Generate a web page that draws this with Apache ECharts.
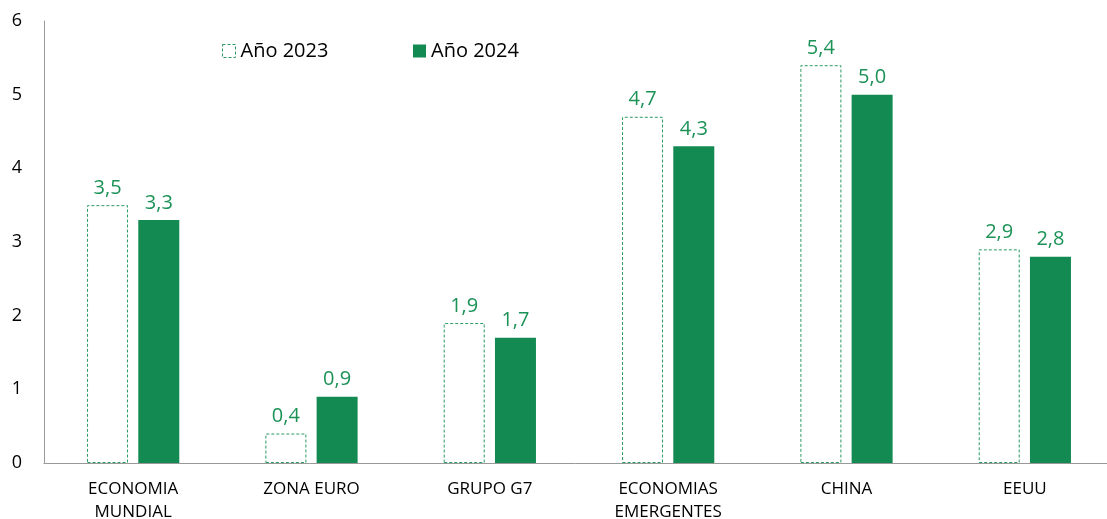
<!DOCTYPE html>
<html>
<head>
<meta charset="utf-8">
<script src="https://cdn.jsdelivr.net/npm/echarts@6/dist/echarts.min.js"></script>
<style>
  html, body { margin: 0; padding: 0; background: #fff; }
  #chart { width: 1107px; height: 519px; }
</style>
</head>
<body>
<div id="chart"></div>
<script>
// categorias y valores
var categorias = ['ECONOMIA\nMUNDIAL', 'ZONA EURO', 'GRUPO G7', 'ECONOMIAS\nEMERGENTES', 'CHINA', 'EEUU'];
var anio2023 = [3.5, 0.4, 1.9, 4.7, 5.4, 2.9];
var anio2024 = [3.3, 0.9, 1.7, 4.3, 5.0, 2.8];
var ticksY = [0, 1, 2, 3, 4, 5, 6];

var verde = '#138a52';
var verdeBorde = '#2a9a62';
var verdeTexto = '#1c9257';
var fuente = '"Open Sans", "Noto Sans", sans-serif';

var chart = echarts.init(document.getElementById('chart'));

function etiqueta(p) {
  return p.value.toFixed(1).replace('.', ',');
}

// leyenda: dos bloques colocados a mano
var leyendaBase = {
  top: 41,
  padding: 0,
  icon: 'rect',
  itemWidth: 13,
  itemHeight: 13,
  selectedMode: false,
  textStyle: { fontSize: 20, color: '#000', fontFamily: fuente }
};

var option = {
  animation: false,
  textStyle: { fontFamily: fuente },
  grid: { left: 44, right: -7, top: 21, bottom: 56, outerBoundsMode: 'none' },
  legend: [
    Object.assign({}, leyendaBase, {
      left: 222,
      data: [{ name: 'Año 2023', itemStyle: { color: '#fff', borderColor: verdeBorde, borderWidth: 1, borderType: [3, 2] } }]
    }),
    Object.assign({}, leyendaBase, {
      left: 413,
      data: [{ name: 'Año 2024', itemStyle: { color: verde } }]
    })
  ],
  xAxis: {
    type: 'category',
    data: categorias,
    axisLine: { lineStyle: { color: '#999', width: 1 } },
    axisTick: { show: false },
    axisLabel: { color: '#000', fontSize: 17, margin: 15, lineHeight: 23, fontFamily: fuente }
  },
  yAxis: {
    type: 'value',
    min: ticksY[0],
    max: ticksY[ticksY.length - 1],
    interval: 1,
    splitLine: { show: false },
    axisLine: { show: true, lineStyle: { color: '#999', width: 1 } },
    axisTick: { show: false },
    axisLabel: { color: '#000', fontSize: 18, margin: 22, fontFamily: fuente }
  },
  series: [
    {
      name: 'Año 2023',
      type: 'bar',
      data: anio2023,
      barWidth: 41,
      barGap: '25%',
      itemStyle: { color: '#fff', borderColor: verdeBorde, borderWidth: 1, borderType: [3, 2] },
      label: { show: true, position: 'top', distance: 7, color: verdeTexto, fontSize: 20, formatter: etiqueta, fontFamily: fuente }
    },
    {
      name: 'Año 2024',
      type: 'bar',
      data: anio2024,
      barWidth: 41,
      itemStyle: { color: verde },
      label: { show: true, position: 'top', distance: 7, color: verdeTexto, fontSize: 20, formatter: etiqueta, fontFamily: fuente }
    }
  ]
};

chart.setOption(option);
</script>
</body>
</html>
